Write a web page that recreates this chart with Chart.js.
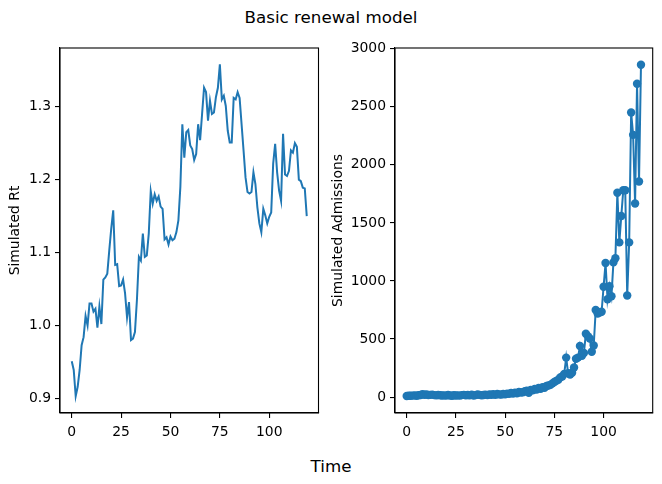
<!DOCTYPE html>
<html>
<head>
<meta charset="utf-8">
<script src="https://cdn.jsdelivr.net/npm/chart.js@4.4.1/dist/chart.umd.min.js"></script>
<style>
  body { margin: 0; background: #fff; width: 662px; height: 484px; position: relative; overflow: hidden; }
  canvas { position: absolute; top: 0; }
  .txt { position: absolute; width: 662px; left: 0; text-align: center; font-family: "DejaVu Sans"; font-size: 16.7px; line-height: 20px; color: #000; }
</style>
</head>
<body>
<div class="txt" style="top:7px">Basic renewal model</div>
<canvas id="rtChart" width="326" height="440" style="left:0"></canvas>
<canvas id="admChart" width="336" height="440" style="left:326px"></canvas>
<div class="txt" style="top:456px">Time</div>
<script>
// days 0..119
const days = Array.from({ length: 120 }, (_, i) => i);

const rt = [
  0.951, 0.939, 0.903, 0.916, 0.939, 0.973, 0.984, 1.013, 1.000, 1.030,
  1.030, 1.019, 1.023, 0.997, 1.026, 1.002, 1.063, 1.066, 1.071, 1.103,
  1.133, 1.158, 1.083, 1.084, 1.054, 1.055, 1.063, 1.044, 1.011, 1.032,
  0.980, 0.982, 0.991, 1.035, 1.094, 1.089, 1.126, 1.094, 1.096, 1.126,
  1.184, 1.167, 1.180, 1.171, 1.177, 1.163, 1.160, 1.118, 1.121, 1.111,
  1.122, 1.117, 1.119, 1.128, 1.144, 1.190, 1.276, 1.230, 1.265, 1.268,
  1.247, 1.242, 1.227, 1.235, 1.276, 1.254, 1.290, 1.326, 1.320, 1.281,
  1.308, 1.290, 1.292, 1.313, 1.326, 1.358, 1.310, 1.315, 1.301, 1.267,
  1.251, 1.251, 1.312, 1.310, 1.320, 1.312, 1.276, 1.240, 1.203, 1.183,
  1.181, 1.183, 1.210, 1.194, 1.162, 1.140, 1.128, 1.160, 1.151, 1.140,
  1.149, 1.155, 1.222, 1.249, 1.210, 1.185, 1.171, 1.263, 1.207, 1.205,
  1.212, 1.240, 1.237, 1.250, 1.245, 1.200, 1.198, 1.189, 1.188, 1.150
];

const admissions = [
  10, 12, 11, 13, 15, 12, 16, 18, 24, 20,
  22, 18, 19, 21, 17, 15, 18, 16, 14, 15,
  13, 18, 14, 12, 16, 14, 15, 13, 17, 19,
  16, 18, 15, 20, 14, 17, 22, 19, 16, 18,
  21, 17, 22, 20, 24, 19, 26, 23, 21, 27,
  25, 30, 28, 35, 31, 38, 33, 45, 40, 42,
  50, 55, 38, 62, 58, 70, 66, 78, 72, 85,
  80, 95, 100, 105, 118, 130, 140, 150, 170, 178,
  200, 340, 205, 195, 210, 255, 330, 340, 440, 355,
  380, 545, 525, 505, 390, 445, 750, 720, 728, 735,
  950, 1155, 842, 955, 868, 1160, 1195, 1760, 1332, 1560,
  1781, 1781, 875, 1332, 2450, 2258, 1667, 2698, 1856, 2862
];

const xTicks = [0, 25, 50, 75, 100];
const rtTicks = [0.9, 1.0, 1.1, 1.2, 1.3];
const admTicks = [0, 500, 1000, 1500, 2000, 2500, 3000];

const blue = '#1f77b4';
Chart.defaults.font.family = 'DejaVu Sans';
Chart.defaults.font.size = 13.9;
Chart.defaults.color = '#000';

// matplotlib-like frame on all four sides
const frame = {
  id: 'frame',
  afterDatasetsDraw(chart) {
    const a = chart.chartArea, ctx = chart.ctx;
    ctx.save();
    ctx.strokeStyle = '#000';
    ctx.lineWidth = 1.1;
    ctx.strokeRect(a.left, a.top, a.right - a.left, a.bottom - a.top);
    ctx.restore();
  }
};

function makeChart(id, values, opts) {
  const points = days.map((d, i) => ({ x: d, y: values[i] }));
  return new Chart(document.getElementById(id), {
    type: 'line',
    data: {
      datasets: [{
        data: points,
        borderColor: blue,
        backgroundColor: blue,
        borderWidth: 2,
        pointRadius: opts.pointRadius,
        pointBorderWidth: 0,
        pointBackgroundColor: blue,
        tension: 0
      }]
    },
    options: {
      responsive: false,
      devicePixelRatio: 1,
      animation: false,
      layout: { padding: { top: 48, right: opts.padRight, left: 0, bottom: 0 } },
      plugins: { legend: { display: false }, tooltip: { enabled: false } },
      scales: {
        x: {
          type: 'linear',
          min: -5.95,
          max: 124.95,
          afterBuildTicks: s => { s.ticks = xTicks.map(v => ({ value: v })); },
          afterFit: s => { s.height = 27; },
          grid: { drawOnChartArea: false, drawTicks: true, tickLength: 5, color: '#000', lineWidth: 1.1 },
          border: { display: true, color: '#000', width: 1.1 },
          ticks: { padding: 6, maxRotation: 0, callback: v => String(v) }
        },
        y: {
          min: opts.yMin,
          max: opts.yMax,
          afterBuildTicks: s => { s.ticks = opts.yTicks.map(v => ({ value: v })); },
          afterFit: s => { s.width = opts.yWidth; },
          grid: { drawOnChartArea: false, drawTicks: true, tickLength: 5, color: '#000', lineWidth: 1.1 },
          border: { display: true, color: '#000', width: 1.1 },
          ticks: { padding: 4, callback: opts.fmt },
          title: { display: true, text: opts.title, padding: { top: opts.titlePad, bottom: 0 } }
        }
      }
    },
    plugins: [frame]
  });
}

makeChart('rtChart', rt, {
  pointRadius: 0, padRight: 7.5, yMin: 0.88, yMax: 1.3805, yTicks: rtTicks,
  yWidth: 60, title: 'Simulated Rt', titlePad: 7, fmt: v => v.toFixed(1)
});

makeChart('admChart', admissions, {
  pointRadius: 4.2, padRight: 9.3, yMin: -137, yMax: 3006, yTicks: admTicks,
  yWidth: 69, title: 'Simulated Admissions', titlePad: 4, fmt: v => String(v)
});
</script>
</body>
</html>
